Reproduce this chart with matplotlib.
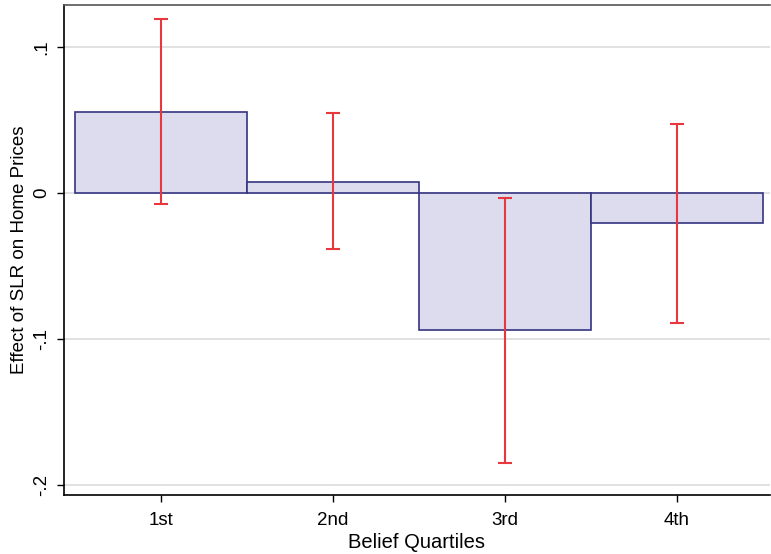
import matplotlib
matplotlib.use('Agg')
import matplotlib.pyplot as plt

plt.rcParams['font.family'] = ['Liberation Sans', 'DejaVu Sans']

quartiles = ['1st', '2nd', '3rd', '4th']
effects = [0.0555, 0.0075, -0.0938, -0.0205]
ci_low = [-0.0075, -0.0384, -0.1850, -0.0890]
ci_high = [0.1190, 0.0548, -0.0034, 0.0473]

x = [1, 2, 3, 4]
fig = plt.figure(figsize=(7.71, 5.54), dpi=100)
ax = fig.add_axes([0.083, 0.1065, 0.9157, 0.8845])

ax.bar(x, effects, width=1.0, color='#dcdcee', edgecolor='#343480', linewidth=1.2, zorder=2)
yerr = [[e - lo for e, lo in zip(effects, ci_low)], [hi - e for e, hi in zip(effects, ci_high)]]
ax.errorbar(x, effects, yerr=yerr, fmt='none', ecolor='#e8383d', elinewidth=1.5,
            capsize=5, capthick=1.5, zorder=3)

ax.set_xlim(0.435, 4.54)
ax.set_ylim(-0.2068, 0.1288)
ax.set_yticks([-0.2, -0.1, 0, 0.1])
ax.set_yticklabels(['-.2', '-.1', '0', '.1'], rotation=90, va='center')
ax.set_xticks(x)
ax.set_xticklabels(quartiles)
ax.tick_params(labelsize=13.5, direction='out', length=5, width=1, colors='black')
ax.tick_params(axis='x', pad=7)
ax.tick_params(axis='y', pad=5)
ax.grid(axis='y', color='#dcdcdc', linewidth=1.2, zorder=0)
ax.set_axisbelow(True)
for s in ax.spines.values():
    s.set_color('#555555')
    s.set_linewidth(1.2)
ax.spines['left'].set_color('black')
ax.spines['bottom'].set_color('black')
ax.spines['right'].set_visible(False)

ax.set_xlabel('Belief Quartiles', fontsize=14.5, labelpad=3)
ax.set_ylabel('Effect of SLR on Home Prices', fontsize=13.5, labelpad=4)

fig.savefig('out.png', dpi=100)
